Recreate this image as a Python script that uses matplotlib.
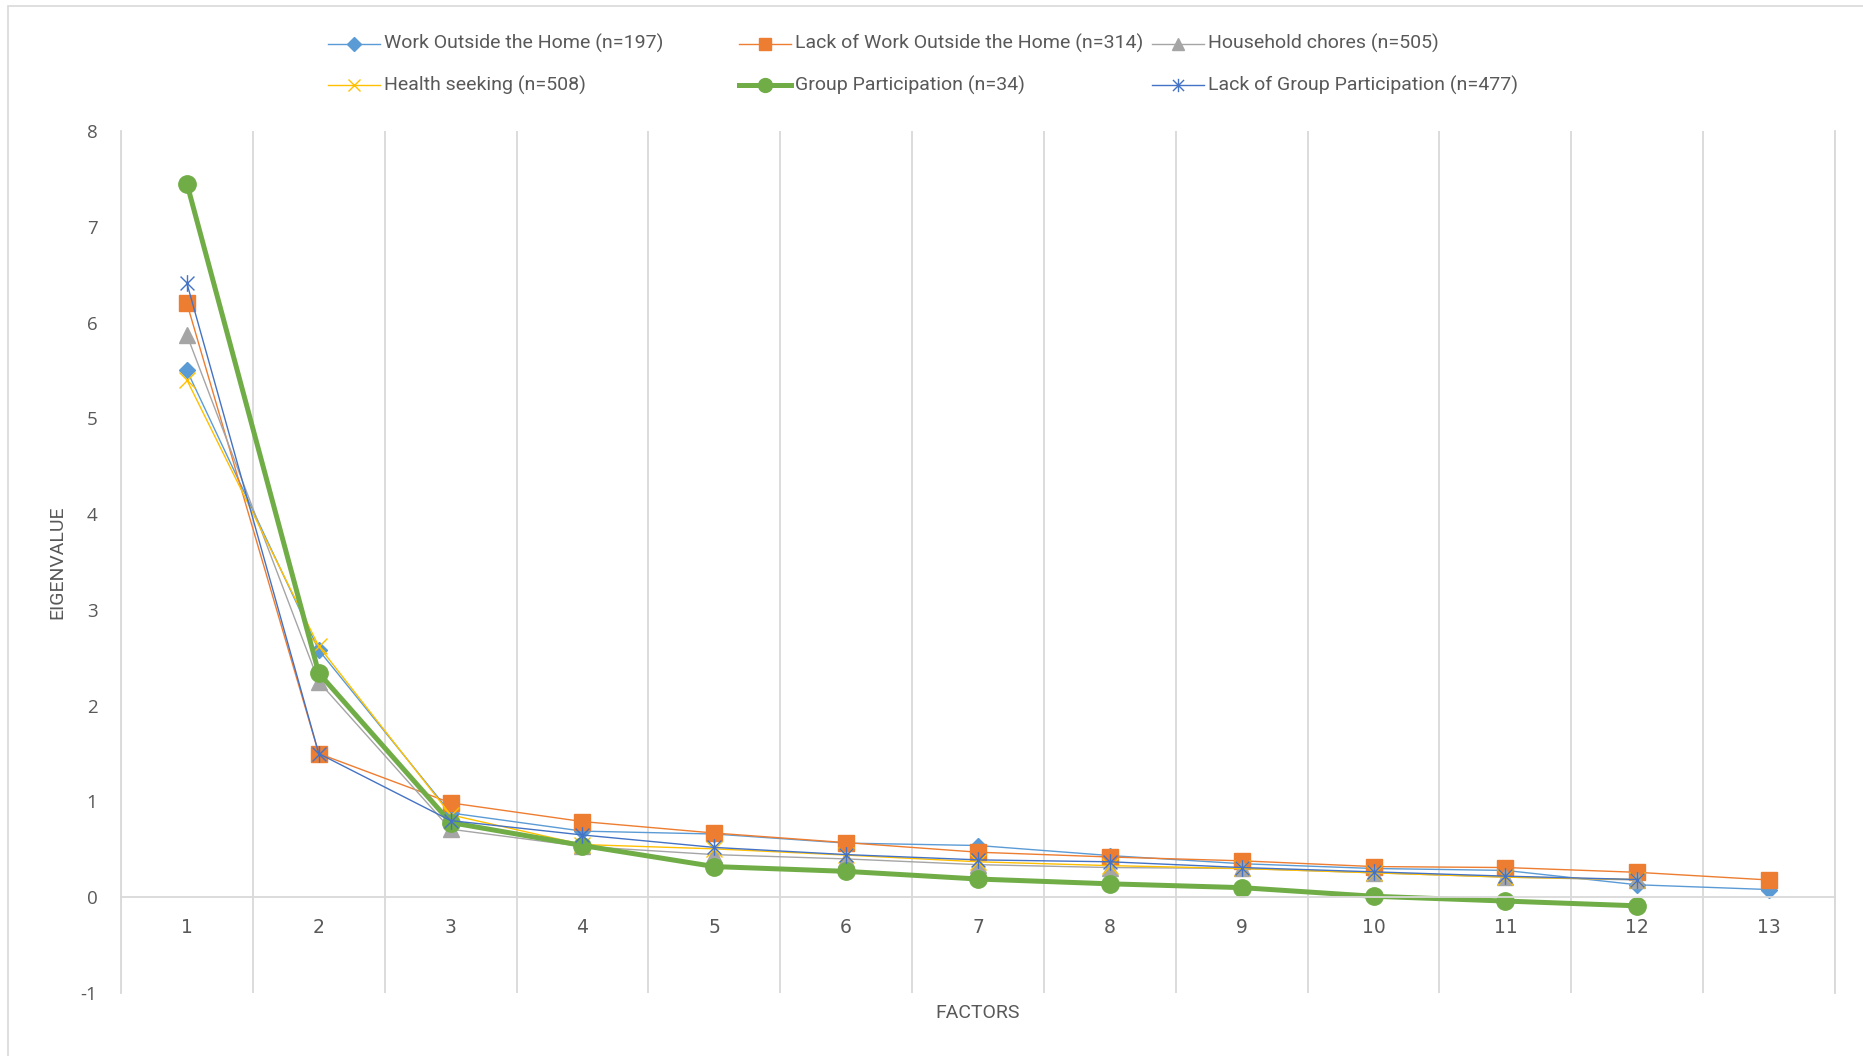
import matplotlib
matplotlib.use("Agg")
import matplotlib.pyplot as plt
from matplotlib.lines import Line2D
from matplotlib.patches import Rectangle
from matplotlib.path import Path

plt.rcParams["axes.unicode_minus"] = False

# ---------------- data ----------------
factors = list(range(1, 14))
work_outside = [5.50, 2.58, 0.88, 0.69, 0.66, 0.565, 0.54, 0.435, 0.35, 0.30, 0.28, 0.13, 0.08]
lack_work = [6.20, 1.50, 0.985, 0.79, 0.67, 0.57, 0.47, 0.42, 0.38, 0.32, 0.31, 0.26, 0.18]
household = [5.87, 2.25, 0.71, 0.53, 0.445, 0.40, 0.34, 0.31, 0.30, 0.255, 0.21, 0.18]
health = [5.40, 2.62, 0.86, 0.55, 0.505, 0.44, 0.37, 0.33, 0.30, 0.255, 0.21, 0.185]
group = [7.45, 2.34, 0.78, 0.54, 0.32, 0.27, 0.19, 0.14, 0.10, 0.01, -0.04, -0.09]
lack_group = [6.41, 1.50, 0.80, 0.65, 0.52, 0.445, 0.39, 0.37, 0.31, 0.265, 0.22, 0.185]

labels = ["Work Outside the Home (n=197)", "Lack of Work Outside the Home (n=314)",
          "Household chores (n=505)", "Health seeking (n=508)",
          "Group Participation (n=34)", "Lack of Group Participation (n=477)"]
y_ticks = list(range(-1, 9))

# ---------------- styles ----------------
star = Path([(-1, -1), (1, 1), (-1, 1), (1, -1), (0, -1.2), (0, 1.2)],
            [Path.MOVETO, Path.LINETO, Path.MOVETO, Path.LINETO, Path.MOVETO, Path.LINETO])
series = [
    (work_outside, dict(color="#5B9BD5", lw=1.0, marker="D", ms=8.5, mfc="#5B9BD5", mec="#5B9BD5")),
    (lack_work, dict(color="#ED7D31", lw=1.0, marker="s", ms=11, mfc="#ED7D31", mec="#ED7D31")),
    (household, dict(color="#A5A5A5", lw=1.0, marker="^", ms=11, mfc="#A5A5A5", mec="#A5A5A5")),
    (health, dict(color="#FFC000", lw=1.0, marker="x", ms=11, mew=1.0, mec="#FFC000")),
    (group, dict(color="#70AD47", lw=3.6, marker="o", ms=12.5, mfc="#70AD47", mec="#70AD47")),
    (lack_group, dict(color="#4472C4", lw=1.0, marker=star, ms=12, mew=1.0, mec="#4472C4", mfc="none")),
]

W, H = 1863, 1056
fig = plt.figure(figsize=(W / 100, H / 100), dpi=100)
fig.patch.set_facecolor("white")

# chart-area border
fig.add_artist(Rectangle((8 / W, -0.1), 1.2, 1 - 6 / H + 0.1, transform=fig.transFigure,
                         fill=False, ec="#D9D9D9", lw=1.2))

ax = fig.add_axes([121 / W, 1 - 993 / H, (1835 - 121) / W, (993 - 131) / H])

for vals, st in series:
    ax.plot(factors[:len(vals)], vals, **st)

ax.set_xlim(0.5, 13.5)
ax.set_ylim(-1, 8)
ax.set_xticks(factors)
ax.set_xticks([i + 0.5 for i in range(0, 14)], minor=True)
ax.set_yticks(y_ticks)
ax.grid(True, which="minor", axis="x", color="#D9D9D9", lw=1.3)
ax.set_axisbelow(True)
ax.tick_params(which="both", length=0)
ax.tick_params(axis="x", pad=15, labelsize=13.5, labelcolor="#595959")
ax.tick_params(axis="y", pad=17, labelsize=13.5, labelcolor="#595959")
for lab in ax.get_xticklabels() + ax.get_yticklabels():
    lab.set_family(["Open Sans", "DejaVu Sans"])

ax.spines["top"].set_visible(False)
ax.spines["bottom"].set_position(("data", 0))
for s in ["bottom", "left", "right"]:
    ax.spines[s].set_color("#D9D9D9")
    ax.spines[s].set_linewidth(1.3)

narrow = ["Liberation Sans Narrow", "Roboto", "DejaVu Sans"]
fig.text(57 / W, 1 - 562 / H, "EIGENVALUE", rotation=90, ha="center", va="center",
         fontsize=14, color="#595959", family=narrow)
fig.text(978 / W, 1 - 1013 / H, "FACTORS", ha="center", va="center",
         fontsize=14, color="#595959", family=narrow)

# legend (Excel-style equal-width columns, 2 rows x 3 columns)
col_x = [328, 739, 1152]
row_y = [43.5, 85]
for i, (lab, (vals, st)) in enumerate(zip(labels, series)):
    r, c = divmod(i, 3)
    x0 = col_x[c]
    y = 1 - row_y[r] / H
    fig.add_artist(Line2D([x0 / W, (x0 + 52) / W], [y, y], transform=fig.transFigure,
                          color=st["color"], lw=st["lw"]))
    mk = dict(marker=st["marker"], ms=st["ms"] * 0.8, mec=st.get("mec", st["color"]),
              mfc=st.get("mfc", st["color"]), mew=st.get("mew", 1.0), lw=0)
    fig.add_artist(Line2D([(x0 + 26) / W], [y], transform=fig.transFigure, color=st["color"], **mk))
    fig.text((x0 + 56) / W, y, lab, ha="left", va="center", fontsize=14,
             color="#595959", family=narrow)

fig.savefig("out.png", dpi=100)
